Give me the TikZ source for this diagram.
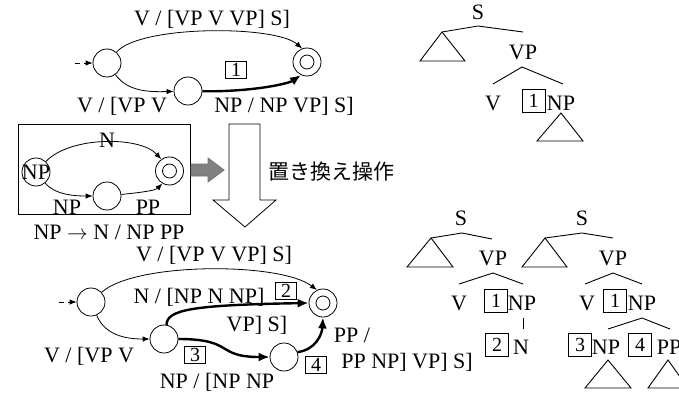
\documentclass[tikz,border=0pt]{standalone}
\usepackage{fontspec}
\setmainfont{Liberation Serif}
\newfontfamily\jpfont{Noto Sans CJK JP}
\usetikzlibrary{arrows.meta}

\tikzset{
  lbl/.style={font=\fontsize{22}{25}\selectfont, inner sep=0pt},
  state/.style={circle, draw, line width=0.8pt, minimum size=28pt, inner sep=0pt},
  accept/.style={state, path picture={\draw[line width=0.8pt] (path picture bounding box.center) circle (7pt);}},
  numbox/.style={draw, line width=0.8pt, font=\fontsize{20}{22}\selectfont, inner sep=0pt, minimum width=21pt, minimum height=17pt},
  treebox/.style={numbox, minimum width=23pt, minimum height=23pt},
  thinarc/.style={line width=0.8pt, -{Latex[length=7pt,width=5.5pt]}},
  thickarc/.style={line width=2.4pt, -{Latex[length=11pt,width=9pt]}},
  initarc/.style={thinarc, dash pattern=on 5pt off 4pt},
  branch/.style={line width=0.9pt},
}

\begin{document}
\begin{tikzpicture}[x=1pt, y=-1pt]
\useasboundingbox (0,0) rectangle (679,393);
\clip (0,0) rectangle (679,393);

% ---------- upper network ----------
\node[state]  (a0) at (107,63) {};
\node[state]  (a1) at (188,91) {};
\node[accept] (a2) at (307,62) {};
\coordinate (a0in) at (75,63);
\draw[initarc] (a0in) -- (a0);
\draw[thinarc] (a0) .. controls (140,25) and (275,25) .. (a2.110);
\draw[thinarc] (a0) .. controls (128,92) and (150,92) .. (a1);
\draw[thickarc] (a1) .. controls (250,92) and (288,84) .. (a2.245);
\node[lbl] (t1) at (212,19) {V / [VP V VP] S]};
\node[lbl] (t2) at (122,106) {V / [VP V};
\node[lbl] (t3) at (284,106) {NP / NP VP] S]};
\node[numbox] (b1) at (236,70) {1};

% ---------- NP rule network ----------
\node[draw, line width=0.8pt, minimum width=172pt, minimum height=90pt, inner sep=0pt] (rbox) at (104,169) {};
\node[state]  (r0) at (36,172) {};
\node[lbl]    (r0t) at (r0) {NP};
\node[state]  (r1) at (107,196) {};
\node[accept] (r2) at (169.5,171) {};
\draw[thinarc] (r0) .. controls (70,136) and (140,136) .. (r2.125);
\draw[thinarc] (r0) .. controls (55,195) and (75,196) .. (r1);
\draw[thinarc] (r1) .. controls (135,193) and (155,191) .. (r2.240);
\node[lbl] (n1) at (107,140) {N};
\node[lbl] (n2) at (67,207) {NP};
\node[lbl] (n3) at (148,207) {PP};
\node[lbl] (n4) at (109,232) {NP $\rightarrow$ N / NP PP};

% gray arrow and the large down arrow
\draw[line width=0.8pt, draw=black!55, fill=black!50]
  (191,164) -- (208,164) -- (208,158) -- (224,170) -- (208,182) -- (208,176) -- (191,176) -- cycle;
\draw[line width=0.8pt, fill=white]
  (229,124) -- (260,124) -- (260,200) -- (276,200) -- (245,227) -- (213,200) -- (229,200) -- cycle;
\node[font=\jpfont\fontsize{21}{24}\selectfont, inner sep=0pt] (op) at (331,172) {置き換え操作};

% ---------- lower network ----------
\node[state]  (c0) at (91,302) {};
\node[state]  (c1) at (164,339) {};
\node[state]  (c2) at (284,357) {};
\node[accept] (c3) at (323,303) {};
\coordinate (c0in) at (59,302);
\draw[initarc] (c0in) -- (c0);
\draw[thinarc] (c0) .. controls (135,262) and (280,262) .. (c3.115);
\draw[thinarc] (c0) .. controls (105,335) and (125,339) .. (c1);
\draw[thickarc] (c1.80) .. controls (167,310) and (190,305) .. (c3.west);
\draw[thickarc] (c1.east) .. controls (235,339) and (215,357) .. (c2.west);
\draw[thickarc] (c2.20) .. controls (315,350) and (322,335) .. (c3.south);
\node[lbl] (u1) at (214,255) {V / [VP V VP] S]};
\node[lbl] (u2) at (199,297) {N / [NP N NP]};
\node[numbox] (b2) at (286,291) {2};
\node[lbl] (u3) at (257,325) {VP] S]};
\node[lbl] (u4) at (89,356) {V / [VP V};
\node[numbox] (b3) at (195,355) {3};
\node[lbl] (u5) at (217,382) {NP / [NP NP};
\node[numbox] (b4) at (316,365) {4};
\node[lbl] (u6) at (352,335) {PP /};
\node[lbl] (u7) at (407,362) {PP NP] VP] S]};

% ---------- tree before substitution ----------
\node[lbl] (sA) at (478,12) {S};
\coordinate (sAa) at (478,26);
\coordinate (sAl) at (442,32);
\coordinate (sAr) at (523,32);
\draw[branch] (sAl) -- (sAa) -- (sAr);
\draw[branch] (sAl) -- (420,61) -- (465,61) -- cycle;
\node[lbl] (vpA) at (523,52) {VP};
\coordinate (vpAa) at (522,67);
\draw[branch] (493,84) -- (vpAa) -- (563,84);
\node[lbl] (vA) at (493,103) {V};
\node[treebox] (k1A) at (533.5,101) {1};
\node[lbl] (npA) at (561,103) {NP};
\draw[branch] (561,113) -- (537,141) -- (583,141) -- cycle;

% ---------- tree after substitution (N) ----------
\node[lbl] (sB) at (461,218) {S};
\coordinate (sBa) at (462,233);
\coordinate (sBl) at (431,238);
\draw[branch] (sBl) -- (sBa) -- (492,239);
\draw[branch] (sBl) -- (407,267) -- (453,267) -- cycle;
\node[lbl] (vpB) at (493,258) {VP};
\coordinate (vpBa) at (493,273);
\draw[branch] (459,284) -- (vpBa) -- (523,284);
\node[lbl] (vB) at (459,303) {V};
\node[treebox] (k1B) at (496,301) {1};
\node[lbl] (npB) at (522,303) {NP};
\draw[branch] (523,318) -- (523,329);
\node[treebox] (k2B) at (497,345) {2};
\node[lbl] (nB) at (521,347) {N};

% ---------- tree after substitution (NP PP) ----------
\node[lbl] (sC) at (582,218) {S};
\coordinate (sCa) at (582,233);
\coordinate (sCl) at (545,238);
\draw[branch] (sCl) -- (sCa) -- (613,238);
\draw[branch] (sCl) -- (522,267) -- (567,267) -- cycle;
\node[lbl] (vpC) at (613,258) {VP};
\coordinate (vpCa) at (613,273);
\draw[branch] (585,284) -- (vpCa) -- (642,284);
\node[lbl] (vC) at (587,303) {V};
\node[treebox] (k1C) at (615,301) {1};
\node[lbl] (npC) at (642,303) {NP};
\coordinate (npCa) at (642,318);
\draw[branch] (608,329) -- (npCa) -- (670,329);
\node[treebox] (k3C) at (580,345) {3};
\node[lbl] (np2C) at (606,347) {NP};
\node[treebox] (k4C) at (640,345) {4};
\node[lbl] (ppC) at (669,347) {PP};
\draw[branch] (608,360) -- (585,388) -- (631,388) -- cycle;
\draw[branch] (668,360) -- (648,388) -- (688,388) -- cycle;
\end{tikzpicture}
\end{document}
